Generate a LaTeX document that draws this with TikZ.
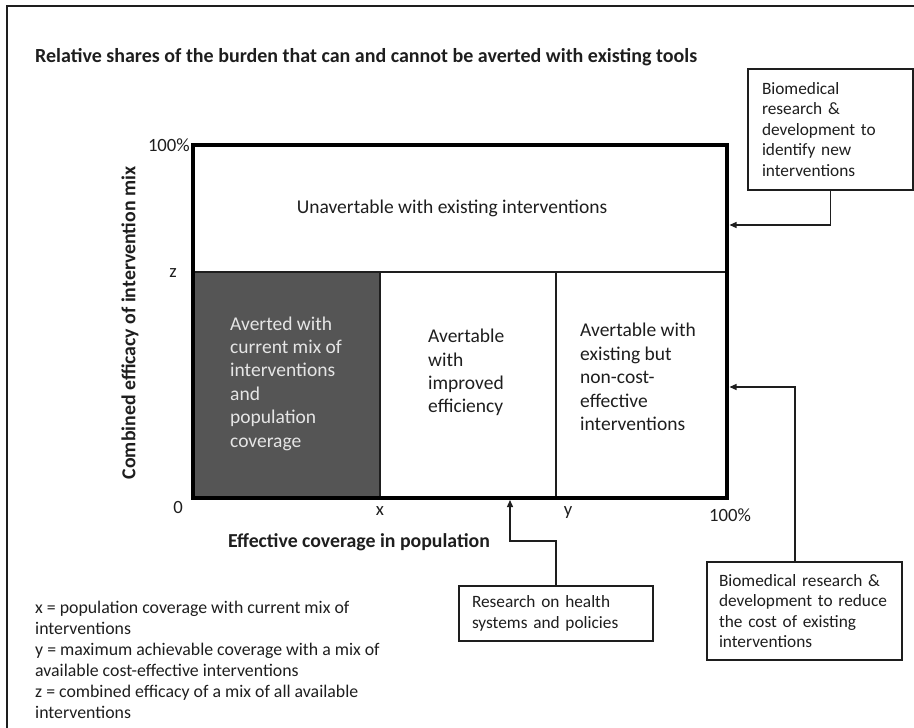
\documentclass[tikz,border=0pt]{standalone}
\usepackage{fontspec}
\setmainfont{Carlito}
\usetikzlibrary{arrows.meta}
\definecolor{darkfill}{HTML}{555555}
\definecolor{ink}{HTML}{1E1E1E}
\begin{document}
\begin{tikzpicture}[x=1pt,y=-1pt,
  txt/.style={font=\fontsize{19.5}{23.4}\selectfont, inner sep=0pt, align=left, text=ink},
  bold/.style={font=\fontsize{19.8}{22}\selectfont\bfseries, inner sep=0pt, text=ink},
  lbl/.style={font=\fontsize{18.7}{21}\selectfont, inner sep=0pt, text=ink},
  leg/.style={font=\fontsize{17.8}{21}\selectfont, inner sep=0pt, align=left, text=ink},
  box/.style={draw=ink, line width=1.3pt, fill=white, align=left, inner xsep=0pt, inner ysep=0pt, font=\fontsize{17.3}{20.5}\selectfont, text=ink},
  conn/.style={draw=ink, line width=1.3pt, -{Triangle[length=7pt,width=6pt]}},
  thinline/.style={draw=ink, line width=1.3pt},
  thickline/.style={draw=black, line width=3.5pt}]
\useasboundingbox (0,0) rectangle (914,728);
\clip (0,0) rectangle (914,728);
% outer frame
\draw[draw=ink, line width=2pt] (7,740) -- (7,6) -- (920,6);
% title
\node[bold, anchor=west, font=\fontsize{20}{22}\selectfont\bfseries] (title) at (35,57) {Relative shares of the burden that can and cannot be averted with existing tools};
% regions
\fill[darkfill] (193,272) rectangle (380,498);
\draw[thinline] (193,272) -- (727,272);
\draw[thinline] (380,272) -- (380,498);
\draw[thinline] (556,272) -- (556,498);
\draw[thickline] (193,145) rectangle (727,498);
\node[txt, anchor=center] (unav) at (452,208) {Unavertable with existing interventions};
\node[txt, anchor=west, text=white!90!black] (avd) at (230,383.5) {Averted with\\current mix of\\interventions\\and\\population\\coverage};
\node[txt, anchor=west] (imp) at (428,372.5) {Avertable\\with\\improved\\efficiency};
\node[txt, anchor=west] (nce) at (580,377) {Avertable with\\existing but\\non-cost-\\effective\\interventions};
% axis labels
\node[lbl, anchor=east] (y100) at (190,145) {100\%};
\node[lbl] (zl) at (173,273) {z};
\node[lbl] (zero) at (178,507) {0};
\node[lbl] (xl) at (380,511) {x};
\node[lbl] (yl) at (568,513) {y};
\node[lbl] (x100) at (730,515) {100\%};
\node[bold, rotate=90] (ylab) at (130,323) {Combined efficacy of intervention mix};
\node[bold] (xlab) at (359,542) {Effective coverage in population};
% legend
\node[leg, anchor=west] (legend) at (35,659.5) {x = population coverage with current mix of\\interventions\\y = maximum achievable coverage with a mix of\\available cost-effective interventions\\z = combined efficacy of a mix of all available\\interventions};
% boxes
\node[box, minimum width=165pt, minimum height=121pt, text width=137pt] (tr) at (830.5,129.5) {Biomedical\\research \&\\development to\\identify new\\interventions};
\node[box, minimum width=195pt, minimum height=98pt, text width=171pt] (br) at (804.5,611) {Biomedical research \&\\development to reduce\\the cost of existing\\interventions};
\node[box, minimum width=194pt, minimum height=55pt, text width=168pt] (bm) at (556,613.5) {Research on health\\systems and policies};
% connectors
\coordinate (e1) at (729.5,225);
\coordinate (b2) at (795,562);
\coordinate (e2) at (729.5,387);
\coordinate (m1) at (510,541);
\coordinate (e3) at (510,500);
\draw[conn] (tr.south) |- (e1);
\draw[conn] (b2) |- (e2);
\draw[conn] (bm.north) |- (m1) -- (e3);
\end{tikzpicture}
\end{document}
